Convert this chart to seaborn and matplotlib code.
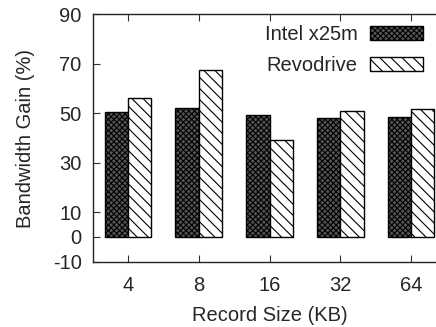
import matplotlib
matplotlib.use("Agg")
import matplotlib.pyplot as plt
import seaborn as sns
import pandas as pd
from matplotlib.patches import Patch

record_sizes = ["4", "8", "16", "32", "64"]
intel_gain = [50.4, 52.2, 49.4, 48.0, 48.3]
revo_gain = [56.3, 67.3, 39.0, 51.0, 51.8]
series_names = ["Intel x25m", "Revodrive"]
yticks = [-10, 0, 10, 30, 50, 70, 90]

df = pd.DataFrame({
    "size": record_sizes * 2,
    "gain": intel_gain + revo_gain,
    "dev": [series_names[0]] * len(record_sizes) + [series_names[1]] * len(record_sizes),
})

sns.set_theme(style="white")
plt.rcParams["font.family"] = ["Liberation Sans", "DejaVu Sans"]
plt.rcParams["hatch.linewidth"] = 0.8
plt.rcParams["hatch.color"] = "black"

FS = 14.5
W, H = 436, 327
fig = plt.figure(figsize=(W / 100, H / 100), dpi=100)
left, right, top, bottom = 92.7, 446.5, 14.3, 261.7
ax = fig.add_axes([left / W, 1 - bottom / H, (right - left) / W, (bottom - top) / H])

faces = {series_names[0]: "#555555", series_names[1]: "white"}
hatches = {series_names[0]: "xxxxxx", series_names[1]: "\\\\\\"}
sns.barplot(data=df, x="size", y="gain", hue="dev", order=record_sizes,
            hue_order=series_names, width=0.66, gap=0, ax=ax,
            palette=[faces[n] for n in series_names], edgecolor="black", linewidth=1.0,
            legend=False, saturation=1)

for cont, name in zip(ax.containers, series_names):
    for bar in cont:
        bar.set_hatch(hatches[name])
        bar.set_edgecolor("black")

ax.set_xlim(-0.5, 4.5)
ax.set_ylim(-10, 90)
ax.set_yticks(yticks)
ax.set_yticklabels([str(v) for v in yticks])
ax.tick_params(axis="both", direction="in", length=5, width=0.8, labelsize=FS,
               color="#333333", top=True, bottom=True, left=True, right=True)
ax.tick_params(axis="y", pad=8)
ax.tick_params(axis="x", pad=10)
for s in ax.spines.values():
    s.set_color("#222222")
    s.set_linewidth(1.0)

ax.set_xlabel("Record Size (KB)", fontsize=FS, labelpad=8)
ax.set_ylabel("Bandwidth Gain (%)", fontsize=FS, labelpad=13)

handles = [Patch(facecolor=faces[n], edgecolor="black", hatch=hatches[n], label=n)
           for n in series_names]
fig.legend(handles=handles, loc="upper right", bbox_to_anchor=(423 / W, 1 - 25 / H),
           bbox_transform=fig.transFigure, frameon=False, markerfirst=False,
           fontsize=FS, handlelength=2.65, handleheight=0.75, handletextpad=0.6,
           labelspacing=0.6, borderpad=0, borderaxespad=0)

fig.savefig("out.png", dpi=100)
